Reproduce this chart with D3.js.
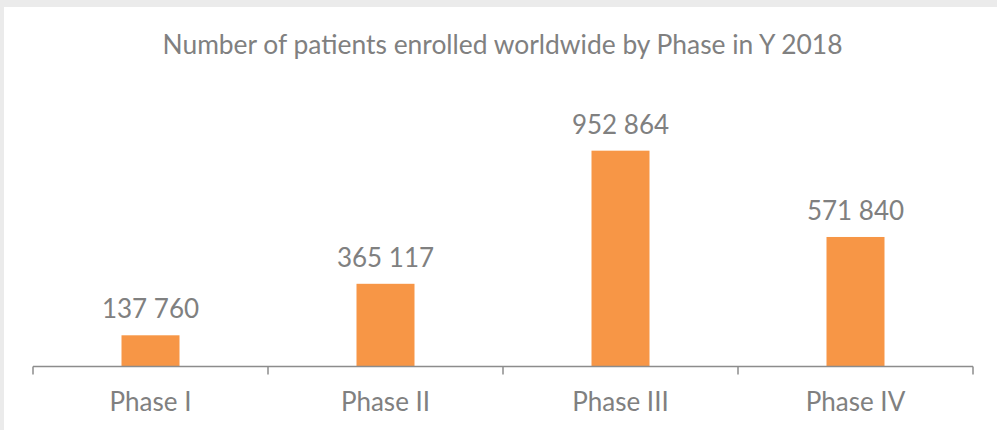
<!DOCTYPE html>
<html>
<head>
<meta charset="utf-8">
<script src="https://cdn.jsdelivr.net/npm/d3@7"></script>
<style>
  html, body { margin: 0; padding: 0; background: #ebebeb; }
  svg { display: block; font-family: Lato, sans-serif; }
</style>
</head>
<body>
<svg width="997" height="430"></svg>
<script>
// chart data
const phases = ["Phase I", "Phase II", "Phase III", "Phase IV"];
const patients = [137760, 365117, 952864, 571840];
const title = "Number of patients enrolled worldwide by Phase in Y 2018";

const svg = d3.select("svg");
const width = +svg.attr("width");
const height = +svg.attr("height");

const textColor = "#808080";

// white panel
svg.append("rect")
  .attr("x", 4).attr("y", 7)
  .attr("width", width - 4).attr("height", height - 7)
  .attr("fill", "#fff");

const x = d3.scaleBand()
  .domain(phases)
  .range([33, 973])
  .paddingInner(0)
  .paddingOuter(0);

const y = d3.scaleLinear()
  .domain([0, 1200000])
  .range([366.5, 94.7]);

// title
svg.append("text")
  .attr("x", 502.5).attr("y", 54.3)
  .attr("text-anchor", "middle")
  .attr("font-size", 26.4)
  .attr("fill", textColor)
  .text(title);

const barW = 58;

svg.selectAll(".bar")
  .data(phases)
  .enter()
  .append("rect")
  .attr("class", "bar")
  .attr("x", (d) => x(d) + x.bandwidth() / 2 - barW / 2)
  .attr("y", (d, i) => y(patients[i]))
  .attr("width", barW)
  .attr("height", (d, i) => y(0) - y(patients[i]))
  .attr("fill", "#f79646");

const fmt = (v) => d3.format(",")(v).replace(/,/g, " ");

svg.selectAll(".lbl")
  .data(phases)
  .enter()
  .append("text")
  .attr("class", "lbl")
  .attr("x", (d) => x(d) + x.bandwidth() / 2)
  .attr("y", (d, i) => y(patients[i]) - 17)
  .attr("text-anchor", "middle")
  .attr("font-size", 26)
  .attr("fill", textColor)
  .text((d, i) => fmt(patients[i]));

// x axis: line with ticks at band edges
const axis = svg.append("g");
axis.append("line")
  .attr("x1", 33).attr("x2", 973)
  .attr("y1", y(0)).attr("y2", y(0))
  .attr("stroke", "#8c8c8c").attr("stroke-width", 1.5);

const edges = phases.map((d) => x(d)).concat([x.range()[1]]);
axis.selectAll(".tick")
  .data(edges)
  .enter()
  .append("line")
  .attr("x1", (d) => d).attr("x2", (d) => d)
  .attr("y1", y(0)).attr("y2", y(0) + 8)
  .attr("stroke", "#8c8c8c").attr("stroke-width", 1.5);

axis.selectAll(".cat")
  .data(phases)
  .enter()
  .append("text")
  .attr("x", (d) => x(d) + x.bandwidth() / 2)
  .attr("y", 410.7)
  .attr("text-anchor", "middle")
  .attr("font-size", 26)
  .attr("fill", textColor)
  .text((d) => d);
</script>
</body>
</html>
